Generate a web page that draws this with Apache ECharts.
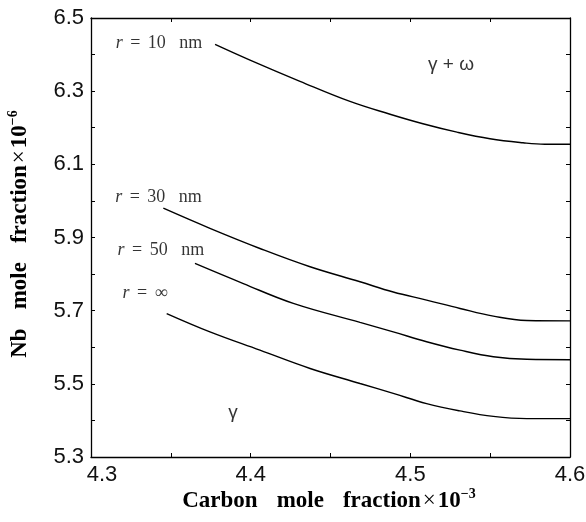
<!DOCTYPE html>
<html>
<head>
<meta charset="utf-8">
<script src="https://cdn.jsdelivr.net/npm/echarts@6/dist/echarts.min.js"></script>
<style>
  html, body { margin: 0; padding: 0; background: #fff; }
  #chart { width: 586px; height: 522px; }
</style>
</head>
<body>
<div id="chart"></div>
<script>
// Carbon mole fraction (x 10^-3) vs Nb mole fraction (x 10^-6) for several particle radii
const r10x  = [4.3777, 4.3996, 4.4309, 4.4622, 4.4873, 4.5079, 4.5292, 4.5499, 4.5706, 4.5843, 4.6];
const r10y  = [6.428, 6.385, 6.327, 6.272, 6.237, 6.211, 6.188, 6.170, 6.159, 6.155, 6.155];

const r30x  = [4.3453, 4.3745, 4.4058, 4.4372, 4.4685, 4.4893, 4.5102, 4.5311, 4.5520, 4.5729, 4.6];
const r30y  = [5.980, 5.925, 5.870, 5.820, 5.779, 5.751, 5.729, 5.706, 5.685, 5.673, 5.672];

const r50x  = [4.3651, 4.3954, 4.4267, 4.4685, 4.4893, 4.5102, 4.5311, 4.5520, 4.5729, 4.6];
const r50y  = [5.829, 5.774, 5.720, 5.668, 5.642, 5.615, 5.592, 5.574, 5.567, 5.566];

const rInfX = [4.3474, 4.3745, 4.4058, 4.4372, 4.4685, 4.4893, 4.5102, 4.5311, 4.5520, 4.5729, 4.6];
const rInfY = [5.692, 5.642, 5.592, 5.542, 5.501, 5.474, 5.446, 5.426, 5.411, 5.405, 5.405];

// Curve labels and phase-field labels, placed in data coordinates
const curveLabels = [
  { text: '{i|r} {e|=} 10   nm', x: 4.3426, y: 6.4316 },
  { text: '{i|r} {e|=} 30   nm', x: 4.3423, y: 6.0104 },
  { text: '{i|r} {e|=} 50   nm', x: 4.3438, y: 5.8654 },
  { text: '{i|r} {e|=} \u221e',  x: 4.3338, y: 5.7478 }
];
const phaseLabels = [
  { text: '\u03b3 + \u03c9', x: 4.5255, y: 6.372 },
  { text: '\u03b3',          x: 4.3890, y: 5.422 }
];

// Axis titles
const xTitle = '{t|Carbon}{g| }{t|mole}{g| }{t|fraction}{x|\u00d7}{t|10}{s|\u22123}';
const yTitle = '{t|Nb}{g| }{t|mole}{g| }{t|fraction}{x|\u00d7}{t|10}{s|\u22126}';

const xMin = 4.3, xMax = 4.6, xStep = 0.05;
const yMin = 5.3, yMax = 6.5, yStep = 0.1;

const zip = (xs, ys) => xs.map((v, i) => [v, ys[i]]);

const chart = echarts.init(document.getElementById('chart'), null, { renderer: 'canvas' });

const lineSeries = (name, xs, ys) => ({
  name, type: 'line', data: zip(xs, ys), smooth: 0.4, symbol: 'none',
  lineStyle: { color: '#000', width: 1.4 }, z: 3
});

const serifFont = '"Liberation Serif", "DejaVu Serif", serif';
const sansFont  = '"Liberation Sans", Arial, sans-serif';

const titleRich = {
  t: { fontFamily: serifFont, fontWeight: 'bold', fontSize: 23, fill: '#000', color: '#000' },
  g: { fontFamily: serifFont, fontSize: 23, width: 19 },
  x: { fontFamily: serifFont, fontSize: 23, fill: '#000', color: '#000', padding: [0, 2] },
  s: { fontFamily: serifFont, fontWeight: 'bold', fontSize: 14, fill: '#000', color: '#000', verticalAlign: 'top', padding: [0, 0, 13, 0] }
};

const boxAxis = {
  axisLine: { show: true, lineStyle: { color: '#000', width: 1.3 } },
  axisTick: { show: true, inside: true, length: 4, lineStyle: { color: '#000', width: 1 } },
  splitLine: { show: false }
};

chart.setOption({
  animation: false,
  backgroundColor: '#fff',
  grid: { left: 91, right: 16, top: 18, bottom: 65, outerBoundsMode: 'none', containLabel: false },
  graphic: [
    {
      type: 'text', x: 329, y: 501, silent: true,
      style: { text: xTitle, rich: titleRich, align: 'center', verticalAlign: 'middle' }
    },
    {
      type: 'text', x: 20, y: 234, rotation: Math.PI / 2, silent: true,
      style: { text: yTitle, rich: titleRich, align: 'center', verticalAlign: 'middle' }
    }
  ],
  xAxis: [
    Object.assign({}, boxAxis, {
      type: 'value', min: xMin, max: xMax, interval: xStep, position: 'bottom',
      axisLabel: {
        margin: 7, color: '#111', fontFamily: sansFont, fontSize: 22,
        formatter: v => {
          const k = Math.round(v * 100);
          if (k % 10 !== 0) return '';
          const s = (k / 100).toFixed(1);
          return k === 430 ? '{f|' + s + '}' : s;
        },
        rich: { f: { fontFamily: sansFont, fontSize: 22, color: '#111', padding: [0, 0, 0, 22] } }
      }
    }),
    Object.assign({}, boxAxis, {
      type: 'value', min: xMin, max: xMax, interval: xStep, position: 'top',
      axisLabel: { show: false }
    })
  ],
  yAxis: [
    Object.assign({}, boxAxis, {
      type: 'value', min: yMin, max: yMax, interval: yStep, position: 'left',
      axisLabel: {
        margin: 7, color: '#111', fontFamily: sansFont, fontSize: 22,
        formatter: v => {
          const k = Math.round(v * 10);
          return k % 2 === 1 ? (k / 10).toFixed(1) : '';
        }
      }
    }),
    Object.assign({}, boxAxis, {
      type: 'value', min: yMin, max: yMax, interval: yStep, position: 'right',
      axisLabel: { show: false }
    })
  ],
  series: [
    lineSeries('r = 10 nm', r10x, r10y),
    lineSeries('r = 30 nm', r30x, r30y),
    lineSeries('r = 50 nm', r50x, r50y),
    lineSeries('r = \u221e', rInfX, rInfY),
    {
      type: 'scatter', symbolSize: 0, silent: true, z: 4,
      data: curveLabels.map(d => ({ value: [d.x, d.y], label: { formatter: d.text } })),
      label: {
        show: true, position: 'inside', color: '#000',
        fontFamily: serifFont, fontSize: 18,
        rich: {
          i: { fontFamily: serifFont, fontStyle: 'italic', fontSize: 18, color: '#000' },
          e: { fontFamily: serifFont, fontSize: 18, color: '#000', padding: [0, 3] }
        }
      }
    },
    {
      type: 'scatter', symbolSize: 0, silent: true, z: 4,
      data: phaseLabels.map(d => ({ value: [d.x, d.y], label: { formatter: d.text } })),
      label: { show: true, position: 'inside', color: '#000', fontFamily: sansFont, fontSize: 19 }
    }
  ]
});
</script>
</body>
</html>
